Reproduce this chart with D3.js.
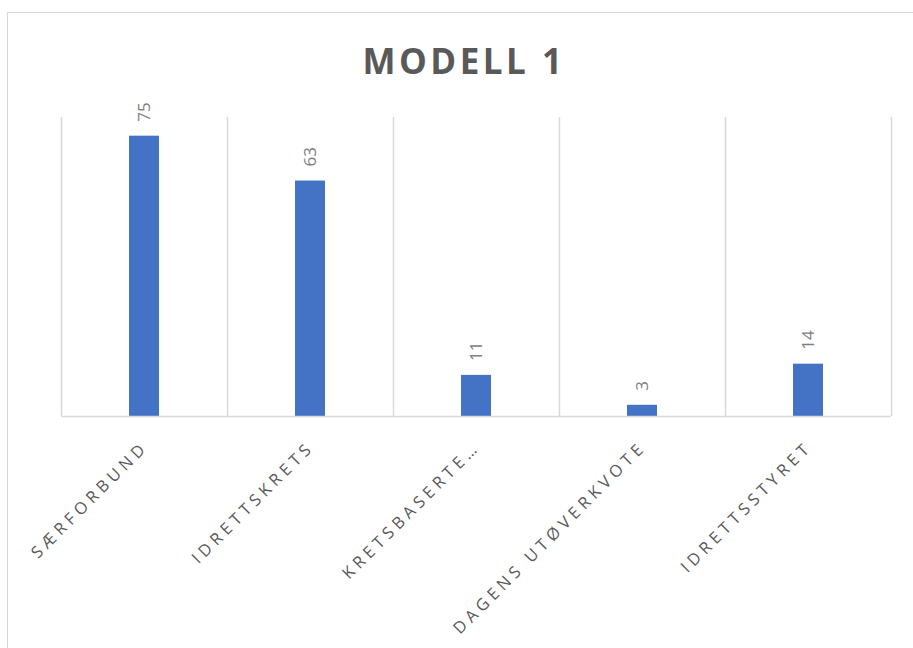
<!DOCTYPE html>
<html><head><meta charset="utf-8">
<script src="https://cdn.jsdelivr.net/npm/d3@7/dist/d3.min.js"></script>
<style>body{margin:0;background:#fff;}svg{display:block;}</style>
</head><body>
<script>
const categories = ["SÆRFORBUND", "IDRETTSKRETS", "KRETSBASERTE…", "DAGENS UTØVERKVOTE", "IDRETTSSTYRET"];
const values = [75, 63, 11, 3, 14];
const title = "MODELL 1";
const yMax = 80;

const W = 913, H = 648;
const svg = d3.select("body").append("svg").attr("width", W).attr("height", H);
svg.append("rect").attr("x", 7.5).attr("y", 12.5).attr("width", 960).attr("height", 700)
  .attr("fill", "#fff").attr("stroke", "#d9d9d9");

const m = {left: 61, right: 891, top: 117, bottom: 416};
const x = d3.scaleBand().domain(categories).range([m.left, m.right]).paddingInner(0).paddingOuter(0);
const y = d3.scaleLinear().domain([0, yMax]).range([m.bottom, m.top]);

svg.append("text").attr("x", 464).attr("y", 74).attr("text-anchor", "middle")
  .attr("font-family", "Open Sans, sans-serif").attr("font-weight", "bold").attr("font-size", 35)
  .attr("letter-spacing", 3.5).attr("fill", "#595959").text(title);

// vertical gridlines at category boundaries
const bounds = categories.map(c => x(c)).concat([x.range()[1]]);
svg.append("g").selectAll("line").data(bounds).join("line")
  .attr("x1", d => d + 0.5).attr("x2", d => d + 0.5).attr("y1", y(yMax)).attr("y2", y(0))
  .attr("stroke", "#d9d9d9").attr("stroke-width", 1.5);

const bw = 30;
svg.append("g").selectAll("rect").data(values).join("rect")
  .attr("x", (d, i) => x(categories[i]) + x.bandwidth() / 2 - bw / 2)
  .attr("width", bw).attr("y", d => y(d)).attr("height", d => y(0) - y(d))
  .attr("fill", "#4472c4");

svg.append("line").attr("x1", m.left).attr("x2", m.right).attr("y1", y(0) + 0.5).attr("y2", y(0) + 0.5)
  .attr("stroke", "#d9d9d9").attr("stroke-width", 1.5);

// data labels
svg.append("g").selectAll("text").data(values).join("text")
  .attr("transform", (d, i) => `translate(${x(categories[i]) + x.bandwidth() / 2},${y(d) - 14}) rotate(-90)`)
  .attr("dy", "0.35em").attr("text-anchor", "start")
  .attr("font-family", "Open Sans, sans-serif").attr("font-size", 17).attr("fill", "#808080")
  .text(d => d);

// axis labels
svg.append("g").selectAll("text").data(categories).join("text")
  .attr("transform", c => `translate(${x(c) + x.bandwidth() / 2 + 1},${y(0) + 28}) rotate(-45)`)
  .attr("text-anchor", "end").attr("dy", "0.35em")
  .attr("font-family", "Open Sans, sans-serif").attr("font-size", 16.5).attr("letter-spacing", 4.5)
  .attr("fill", "#595959").text(c => c);
</script>
</body></html>
